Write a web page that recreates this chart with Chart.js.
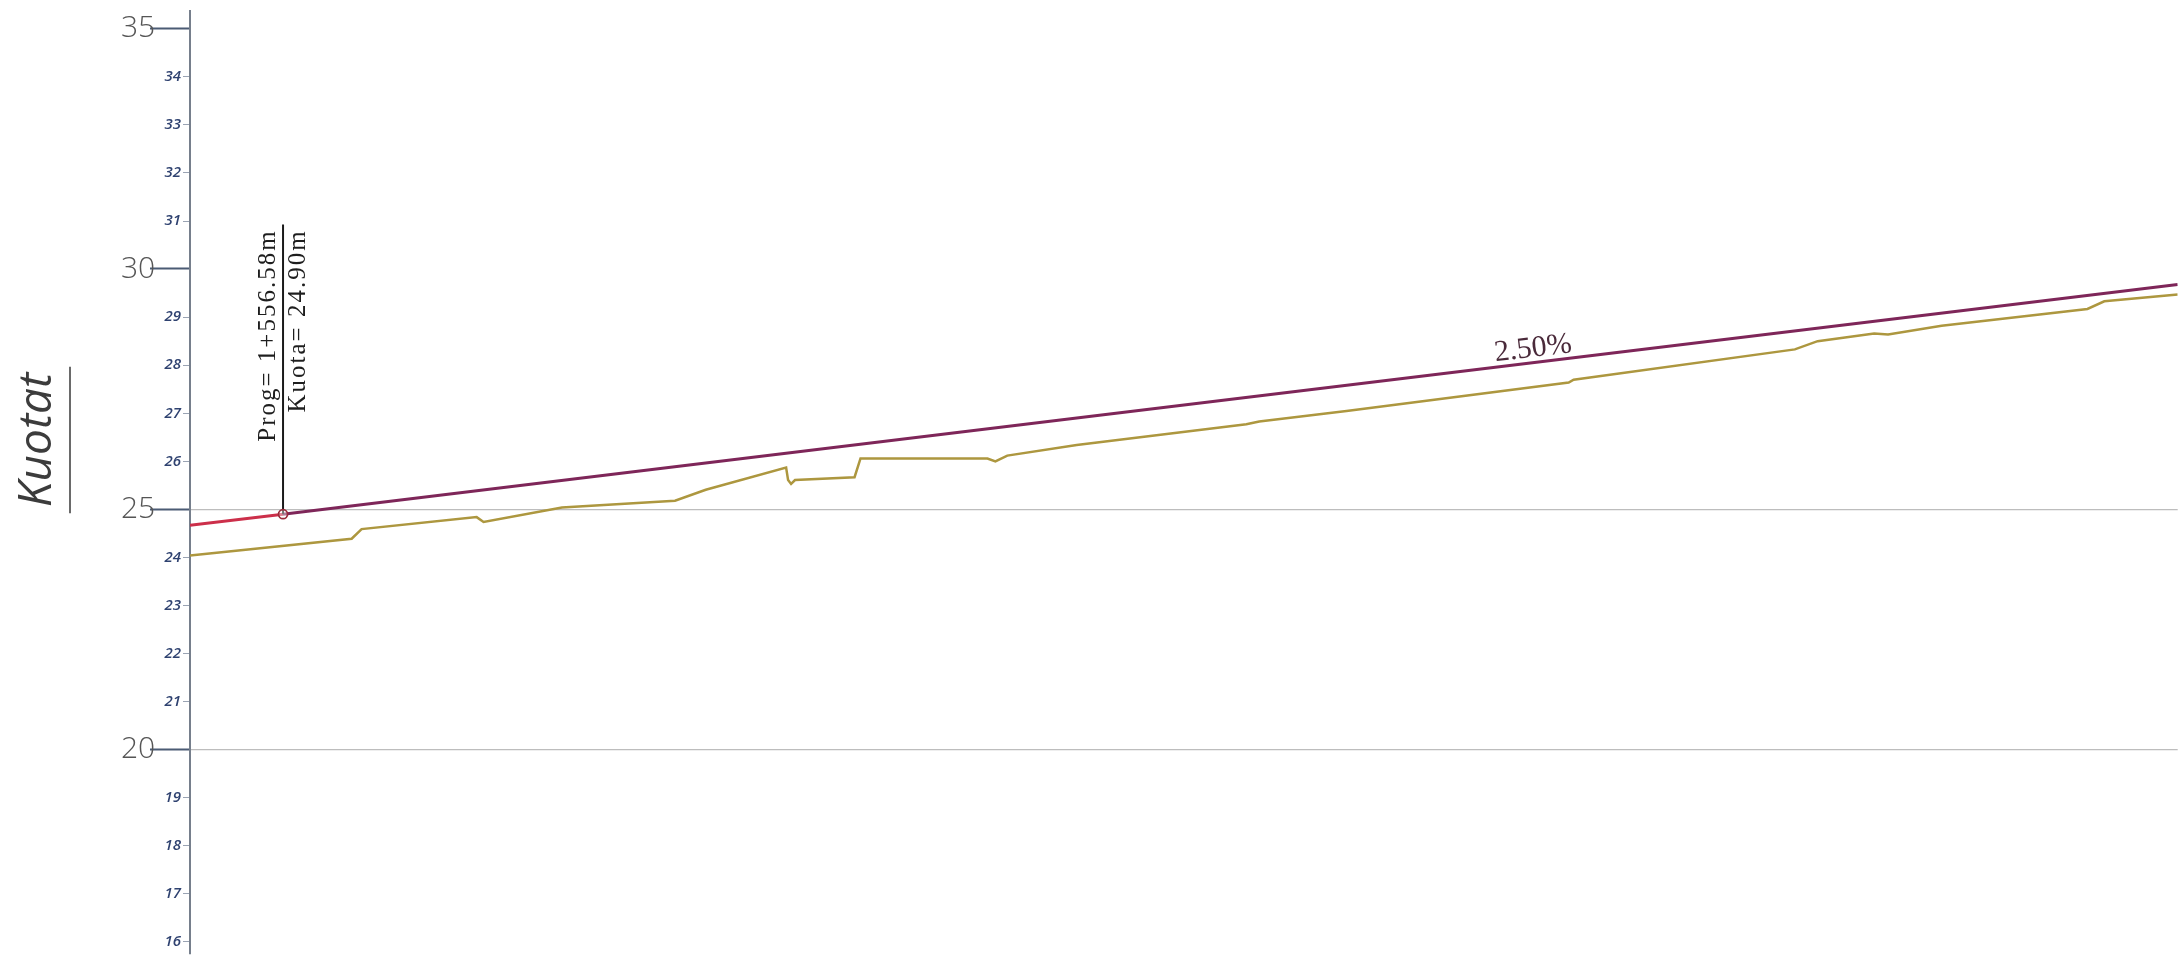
<!DOCTYPE html>
<html>
<head>
<meta charset="utf-8">
<script src="https://cdn.jsdelivr.net/npm/chart.js@4.4.1/dist/chart.umd.min.js"></script>
<style>
  html, body { margin: 0; padding: 0; background: #ffffff; }
  #wrap { position: relative; width: 2184px; height: 965px; }
</style>
</head>
<body>
<div id="wrap"><canvas id="c"></canvas></div>
<script>
// ---------- data (chainage in metres, elevation in metres) ----------
const groundChainage = [1547.2, 1563.5, 1564.5, 1576.1, 1576.8, 1584.7, 1596.1, 1599.2, 1607.3, 1607.5,
  1607.8, 1608.2, 1614.2, 1614.8, 1627.6, 1628.4, 1629.6, 1636.6, 1653.7, 1655.0,
  1663.8, 1686.2, 1686.7, 1709.0, 1711.3, 1717.0, 1718.4, 1723.8, 1738.5, 1740.2, 1747.6];
const groundElevation = [24.04, 24.39, 24.59, 24.84, 24.74, 25.04, 25.18, 25.41, 25.87, 25.61,
  25.53, 25.61, 25.67, 26.06, 26.06, 26.00, 26.12, 26.34, 26.77, 26.83,
  27.05, 27.64, 27.70, 28.33, 28.50, 28.66, 28.64, 28.82, 29.17, 29.33, 29.47];
const gradeChainage = [1547.2, 1556.58, 1747.6];
const gradeElevation = [24.67, 24.90, 29.68];
const markerChainage = [1556.58];
const markerElevation = [24.90];
const leaderTopElevation = [30.93];
const gradeLabelChainage = [1682.7];
const majorTicks = [20, 25, 30, 35];
const minorTicks = [16, 17, 18, 19, 21, 22, 23, 24, 26, 27, 28, 29, 31, 32, 33, 34];
const gridTicks = [20, 25];
const yTitle = 'Kuotat';
const progLabel = 'Prog= 1+556.58m';
const kuotaLabel = 'Kuota= 24.90m';
const gradeLabel = '2.50%';

const xMin = 1547.2, xMax = 1747.6, yMin = 15.75, yMax = 35.37;

const toXY = (xs, ys) => xs.map((x, i) => ({ x: x, y: ys[i] }));

const annotationPlugin = {
  id: 'profileText',
  afterDatasetsDraw(chart) {
    const ctx = chart.ctx;
    const xs = chart.scales.x, ys = chart.scales.y;
    // station labels along the leader line
    const lx = xs.getPixelForValue(markerChainage[0]);
    const ly = ys.getPixelForValue(leaderTopElevation[0]);
    ctx.save();
    ctx.fillStyle = '#1e1e1e';
    ctx.font = "25px 'Liberation Serif', 'DejaVu Serif', serif";
    if ('letterSpacing' in ctx) ctx.letterSpacing = '2px';
    ctx.translate(lx, ly + 5);
    ctx.rotate(-Math.PI / 2);
    ctx.textAlign = 'right';
    ctx.textBaseline = 'alphabetic';
    ctx.fillText(progLabel, 0, -8);
    ctx.textBaseline = 'top';
    ctx.fillText(kuotaLabel, 0, 3);
    ctx.restore();

    // grade label along the grade line
    const x1 = xs.getPixelForValue(gradeChainage[1]), y1 = ys.getPixelForValue(gradeElevation[1]);
    const x2 = xs.getPixelForValue(gradeChainage[2]), y2 = ys.getPixelForValue(gradeElevation[2]);
    const ang = Math.atan2(y2 - y1, x2 - x1);
    const gx = xs.getPixelForValue(gradeLabelChainage[0]);
    const gy = y1 + (gx - x1) * (y2 - y1) / (x2 - x1);
    ctx.save();
    ctx.translate(gx, gy - 6);
    ctx.rotate(ang);
    ctx.fillStyle = '#4a2a3a';
    ctx.font = "30px 'Liberation Serif', 'DejaVu Serif', serif";
    ctx.textAlign = 'center';
    ctx.textBaseline = 'alphabetic';
    ctx.fillText(gradeLabel, 0, 0);
    ctx.restore();

    // axis title with underline
    const ty = 440;
    ctx.save();
    ctx.translate(38, ty);
    ctx.rotate(-Math.PI / 2);
    ctx.fillStyle = '#3c3c3c';
    ctx.font = "italic 46px 'Open Sans', 'DejaVu Sans', sans-serif";
    ctx.textAlign = 'center';
    ctx.textBaseline = 'middle';
    ctx.fillText(yTitle, 0, 0);
    const w = ctx.measureText(yTitle).width;
    ctx.restore();
    ctx.save();
    ctx.strokeStyle = '#6a6a6a';
    ctx.lineWidth = 2;
    ctx.beginPath();
    ctx.moveTo(70, ty - w / 2 - 6);
    ctx.lineTo(70, ty + w / 2 + 6);
    ctx.stroke();
    ctx.restore();
  }
};

new Chart(document.getElementById('c'), {
  type: 'line',
  data: {
    datasets: [
      {
        label: 'marker',
        data: toXY(markerChainage, markerElevation),
        showLine: false,
        pointRadius: 4.5,
        pointBorderWidth: 1.8,
        pointBorderColor: '#9a2a3a',
        pointBackgroundColor: 'rgba(255,255,255,0.4)'
      },
      {
        label: 'leader',
        data: toXY([markerChainage[0], markerChainage[0]], [markerElevation[0], leaderTopElevation[0]]),
        borderColor: '#1a1a1a',
        borderWidth: 2,
        pointRadius: 0
      },
      {
        label: 'rasante',
        data: toXY(gradeChainage, gradeElevation),
        borderWidth: 3,
        borderColor: '#7e2659',
        segment: {
          borderColor: c => c.p1DataIndex === 1 ? '#cc2f4a' : '#7e2659'
        },
        pointRadius: 0,
        tension: 0
      },
      {
        label: 'terreno',
        data: toXY(groundChainage, groundElevation),
        borderWidth: 2.5,
        borderColor: '#ad973f',
        pointRadius: 0,
        tension: 0
      }
    ]
  },
  options: {
    responsive: true,
    maintainAspectRatio: false,
    animation: false,
    devicePixelRatio: 1,
    events: [],
    layout: { padding: 0 },
    plugins: { legend: { display: false }, tooltip: { enabled: false } },
    scales: {
      x: { type: 'linear', min: xMin, max: xMax, display: false },
      y: {
        type: 'linear', position: 'left', min: yMin, max: yMax, weight: 1,
        afterBuildTicks: s => { s.ticks = minorTicks.map(v => ({ value: v })); },
        afterFit: s => { s.width = 190; },
        ticks: {
          autoSkip: false,
          padding: 2,
          color: '#2f4270',
          font: { family: "'Open Sans', 'DejaVu Sans', sans-serif", size: 15, style: 'italic', weight: '600' },
          callback: v => String(v)
        },
        grid: { drawOnChartArea: false, tickLength: 7, tickColor: '#9aa3b3', tickWidth: 1 },
        border: { display: false }
      },
      yMajor: {
        type: 'linear', position: 'left', min: yMin, max: yMax, weight: 0,
        afterBuildTicks: s => { s.ticks = majorTicks.map(v => ({ value: v })); },
        afterFit: s => { s.width = 0; },
        ticks: {
          autoSkip: false,
          mirror: true,
          padding: -69,
          color: '#555555',
          font: { family: "'Open Sans', 'DejaVu Sans', sans-serif", size: 30, weight: '300' },
          callback: v => String(v)
        },
        grid: {
          drawOnChartArea: true,
          tickLength: 40,
          tickWidth: 2,
          tickColor: '#4b5b74',
          lineWidth: 1.2,
          color: c => (c.tick && gridTicks.includes(c.tick.value)) ? '#bdbdbd' : 'rgba(0,0,0,0)'
        },
        border: { display: true, color: '#767f8c', width: 2 }
      }
    }
  },
  plugins: [annotationPlugin]
});
</script>
</body>
</html>
